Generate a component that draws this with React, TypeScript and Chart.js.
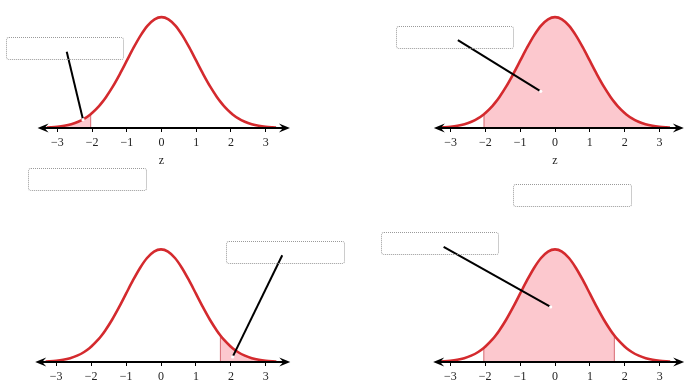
import React, { useEffect, useRef } from 'react';
import { Chart, registerables } from 'chart.js';

Chart.register(...registerables);

// ---------- data ----------
const zGrid = [
  -3.3, -3.2, -3.0, -2.8, -2.6, -2.4, -2.2, -2.04, -2.0, -1.8, -1.7, -1.6, -1.4, -1.2, -1.0,
  -0.8, -0.6, -0.4, -0.2, 0, 0.2, 0.4, 0.6, 0.8, 1.0, 1.2, 1.4, 1.6, 1.7, 1.8, 2.0, 2.04,
  2.2, 2.4, 2.6, 2.8, 3.0, 3.2, 3.3,
];
const density = [
  0.0017, 0.0024, 0.0044, 0.0079, 0.0136, 0.0224, 0.0355, 0.0498, 0.054, 0.079, 0.094, 0.1109,
  0.1497, 0.1942, 0.242, 0.2897, 0.3332, 0.3683, 0.391, 0.3989, 0.391, 0.3683, 0.3332, 0.2897,
  0.242, 0.1942, 0.1497, 0.1109, 0.094, 0.079, 0.054, 0.0498, 0.0355, 0.0224, 0.0136, 0.0079,
  0.0044, 0.0024, 0.0017,
];
const tickValues = [-3, -2, -1, 0, 1, 2, 3];
const tickLabels = ['−3', '−2', '−1', '0', '1', '2', '3'];
const axisTitle = 'z';

// shaded region of each panel (top-left, top-right, bottom-left, bottom-right)
const shadeFrom = [-3.3, -2.04, 1.7, -2.04];
const shadeTo = [-2.04, 3.3, 3.3, 1.7];
// pointer lines (z, density)
const pointerFromZ = [-2.73, -2.79, 3.47, -3.19];
const pointerFromY = [0.274, 0.316, 0.378, 0.408];
const pointerToZ = [-2.26, -0.41, 2.05, -0.125];
const pointerToY = [0.03, 0.132, 0.018, 0.195];
// axis arrow ends (z)
const arrowFrom = [-3.57, -3.48, -3.6, -3.49];
const arrowTo = [3.7, 3.7, 3.7, 3.7];

// ---------- layout ----------
const panelLayout = [
  { left: 0, top: 0, width: 323, height: 175, xHalf: 4.537, yMax: 0.446, axisH: 47, title: true },
  { left: 410, top: 0, width: 290, height: 175, xHalf: 4.05, yMax: 0.446, axisH: 47, title: true },
  { left: 0, top: 192, width: 322, height: 193, xHalf: 4.493, yMax: 0.588, axisH: 23, title: false },
  { left: 410, top: 192, width: 290, height: 193, xHalf: 4.039, yMax: 0.588, axisH: 23, title: false },
];
const boxLayout = [
  { left: 6, top: 37, width: 118, height: 23 },
  { left: 28, top: 168, width: 119, height: 23 },
  { left: 396, top: 26, width: 118, height: 23 },
  { left: 226, top: 241, width: 119, height: 23 },
  { left: 513, top: 184, width: 119, height: 23 },
  { left: 381, top: 232, width: 118, height: 23 },
];

const RED = '#d42a2e';
const SHADE = '#fcc8ce';
const EDGE = 'rgba(205,70,80,0.8)';
const SERIF = "'Liberation Serif', 'Times New Roman', serif";

const axisArrows = {
  id: 'axisArrows',
  afterDatasetsDraw(chart: any, _args: any, opts: any) {
    const { ctx } = chart;
    const xs = chart.scales.x;
    const ys = chart.scales.y;
    const y0 = ys.getPixelForValue(0);
    const xa = xs.getPixelForValue(opts.from);
    const xb = xs.getPixelForValue(opts.to);
    ctx.save();
    ctx.strokeStyle = '#000';
    ctx.fillStyle = '#000';
    ctx.lineWidth = 2;
    ctx.beginPath();
    ctx.moveTo(xa + 5, y0);
    ctx.lineTo(xb - 5, y0);
    ctx.stroke();
    const head = (tip: number, dir: number) => {
      ctx.beginPath();
      ctx.moveTo(tip, y0);
      ctx.lineTo(tip - dir * 11, y0 - 4.5);
      ctx.lineTo(tip - dir * 7, y0);
      ctx.lineTo(tip - dir * 11, y0 + 4.5);
      ctx.closePath();
      ctx.fill();
    };
    head(xb, 1);
    head(xa, -1);
    ctx.restore();
  },
};

function Panel({ index }: { index: number }) {
  const ref = useRef<HTMLCanvasElement | null>(null);
  const L = panelLayout[index];

  useEffect(() => {
    if (!ref.current) return;
    const curve = zGrid.map((z, i) => ({ x: z, y: density[i] }));
    const lo = shadeFrom[index];
    const hi = shadeTo[index];
    const shade = curve.filter((p) => p.x >= lo - 1e-9 && p.x <= hi + 1e-9);
    const edges: any[] = [];
    [lo, hi].forEach((b) => {
      if (Math.abs(b) < 3.29) {
        const i = zGrid.indexOf(b);
        edges.push({
          data: [
            { x: b, y: 0 },
            { x: b, y: density[i] },
          ],
          borderColor: EDGE,
          borderWidth: 1,
          tension: 0,
          pointRadius: 0,
          fill: false,
        });
      }
    });

    const datasets: any[] = [
      {
        data: [
          { x: pointerFromZ[index], y: pointerFromY[index] },
          { x: pointerToZ[index], y: pointerToY[index] },
        ],
        borderColor: '#000',
        borderWidth: 2,
        tension: 0,
        pointRadius: [0, 1.6],
        pointBackgroundColor: '#fff',
        pointBorderWidth: 0,
        fill: false,
      },
      {
        data: curve,
        borderColor: RED,
        borderWidth: 2.6,
        cubicInterpolationMode: 'monotone',
        pointRadius: 0,
        fill: false,
      },
      ...edges,
      {
        data: shade,
        borderWidth: 0,
        borderColor: 'rgba(0,0,0,0)',
        backgroundColor: SHADE,
        cubicInterpolationMode: 'monotone',
        pointRadius: 0,
        fill: 'origin',
      },
    ];

    const chart = new Chart(ref.current, {
      type: 'line',
      data: { datasets },
      options: {
        animation: false,
        responsive: false,
        devicePixelRatio: 1,
        events: [],
        layout: { padding: 0 },
        plugins: {
          legend: { display: false },
          tooltip: { enabled: false },
          axisArrows: { from: arrowFrom[index], to: arrowTo[index] },
        } as any,
        scales: {
          x: {
            type: 'linear',
            min: -L.xHalf,
            max: L.xHalf,
            afterBuildTicks: (s: any) => {
              s.ticks = tickValues.map((v) => ({ value: v }));
            },
            afterFit: (s: any) => {
              s.height = L.axisH;
            },
            ticks: {
              autoSkip: false,
              maxRotation: 0,
              padding: 4,
              color: '#222',
              font: { family: SERIF, size: 12 },
              callback: (v: any) => tickLabels[tickValues.indexOf(Number(v))] ?? '',
            },
            grid: {
              display: true,
              drawOnChartArea: false,
              drawTicks: true,
              tickLength: 4,
              color: '#000',
              lineWidth: 1,
            },
            border: { display: false },
            title: {
              display: L.title,
              text: axisTitle,
              color: '#222',
              font: { family: SERIF, size: 12 },
              padding: { top: 0, bottom: 7 },
            },
          },
          y: { type: 'linear', display: false, min: 0, max: L.yMax },
        },
      } as any,
      plugins: [axisArrows],
    });
    return () => chart.destroy();
  }, [index]);

  return (
    <canvas
      ref={ref}
      width={L.width}
      height={L.height}
      style={{ position: 'absolute', left: L.left, top: L.top, width: L.width, height: L.height }}
    />
  );
}

export default function App() {
  return (
    <div
      style={{
        position: 'fixed',
        left: 0,
        top: 0,
        width: 700,
        height: 385,
        background: '#fff',
        overflow: 'hidden',
      }}
    >
      {panelLayout.map((_, i) => (
        <Panel key={i} index={i} />
      ))}
      {boxLayout.map((b, i) => (
        <div
          key={'b' + i}
          style={{
            position: 'absolute',
            left: b.left,
            top: b.top,
            width: b.width,
            height: b.height,
            boxSizing: 'border-box',
            border: '1px dotted #9a9a9a',
            borderRadius: 3,
          }}
        />
      ))}
    </div>
  );
}
